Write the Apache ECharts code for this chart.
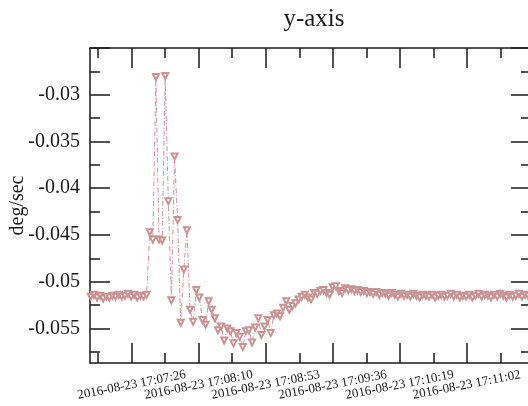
<!DOCTYPE html>
<html>
<head>
<meta charset="utf-8">
<script src="https://cdn.jsdelivr.net/npm/echarts@6/dist/echarts.min.js"></script>
<style>
  html, body { margin: 0; padding: 0; background: #fff; }
  #chart { width: 528px; height: 406px; }
</style>
</head>
<body>
<div id="chart"></div>
<script>
// seconds after 17:07:00 on 2016-08-23
var times = [
    0, 2, 4, 6, 8, 10, 12, 14, 16, 18, 20, 22, 24, 26, 28, 30, 32, 34, 36,
    38, 40, 42, 44, 46, 48, 50, 52, 54, 56, 58, 60, 62, 64, 66, 68, 70, 72, 74, 76, 78,
    80, 82, 84, 86, 88, 90, 92, 94, 96, 98, 100, 102, 104, 106, 108, 110, 112, 114, 116, 118,
    120, 122, 124, 126, 128, 130, 132, 134, 136, 138, 140, 142, 144, 146, 148, 150, 152, 154, 156, 158,
    160, 162, 164, 166, 168, 170, 172, 174, 176, 178, 180, 182, 184, 186, 188, 190, 192, 194, 196, 198,
    200, 202, 204, 206, 208, 210, 212, 214, 216, 218, 220, 222, 224, 226, 228, 230, 232, 234, 236, 238,
    240, 242, 244, 246, 248, 250, 252, 254, 256, 258, 260, 262, 264, 266, 268, 270, 272, 274, 276, 278,
    280, 282
];
// y-axis rate, deg/sec
var rates = [
    -0.0516, -0.0514, -0.0517, -0.0515, -0.0518, -0.0516, -0.0517, -0.0515, -0.0516, -0.0514,
    -0.0516, -0.0515, -0.0513, -0.0516, -0.0514, -0.0517, -0.0515, -0.0516, -0.0514,
    -0.0447, -0.0455, -0.0281, -0.0455, -0.0456, -0.0280, -0.0414, -0.0520, -0.0366, -0.0434,
    -0.0544, -0.0487, -0.0445, -0.0530, -0.0543, -0.0509, -0.0517, -0.0541, -0.0546, -0.0521,
    -0.0530, -0.0539, -0.0552, -0.0548, -0.0563, -0.0550, -0.0553, -0.0566, -0.0555, -0.0559,
    -0.0570, -0.0553, -0.0552, -0.0565, -0.0549, -0.0539, -0.0557, -0.0548, -0.0541, -0.0555,
    -0.0536, -0.0534, -0.0537, -0.0528, -0.0521, -0.0530, -0.0526, -0.0523, -0.0519, -0.0516,
    -0.0514, -0.0517, -0.0519, -0.0512, -0.0513, -0.0510, -0.0509, -0.0512, -0.0514, -0.0506,
    -0.0505, -0.0510, -0.0512, -0.0507, -0.0509, -0.0508, -0.0510, -0.0509, -0.0511, -0.0510,
    -0.0512, -0.0511, -0.0513, -0.0511, -0.0514, -0.0512, -0.0513, -0.0515, -0.0512, -0.0514,
    -0.0516, -0.0513, -0.0515, -0.0514, -0.0516, -0.0513, -0.0515, -0.0517, -0.0514, -0.0515,
    -0.0516, -0.0514, -0.0517, -0.0515, -0.0514, -0.0516, -0.0515, -0.0513, -0.0516, -0.0514,
    -0.0517, -0.0515, -0.0516, -0.0514, -0.0517, -0.0515, -0.0513, -0.0516, -0.0514, -0.0515,
    -0.0517, -0.0514, -0.0516, -0.0513, -0.0515, -0.0517, -0.0514, -0.0516, -0.0515, -0.0513,
    -0.0516, -0.0514, -0.0515
];
var xMajorTicks = [26.4, 69.6, 112.8, 156, 199.2, 242.4];
var xMinorTicks = [4.8, 48, 91.2, 134.4, 177.6, 220.8, 264];
var xTickLabels = [
    '2016-08-23 17:07:26', '2016-08-23 17:08:10', '2016-08-23 17:08:53',
    '2016-08-23 17:09:36', '2016-08-23 17:10:19', '2016-08-23 17:11:02'
];
var yMajorTicks = [-0.055, -0.05, -0.045, -0.04, -0.035, -0.03, -0.025];
var yMinorTicks = [-0.0575, -0.0525, -0.0475, -0.0425, -0.0375, -0.0325, -0.0275];
var yTickLabels = ['-0.055', '-0.05', '-0.045', '-0.04', '-0.035', '-0.03'];

var xMin = -0.5, xMax = 283.8;
var yMin = -0.0587, yMax = -0.025;
var ink = '#1a1a1a';
var serif = '"Liberation Serif", "DejaVu Serif", serif';
var mark = '#c99393';

var pts = [];
for (var i = 0; i < times.length; i++) {
    pts.push([times[i], rates[i]]);
}

function labelFor(v) {
    for (var j = 0; j < xMajorTicks.length; j++) {
        if (Math.abs(xMajorTicks[j] - v) < 1e-6) return xTickLabels[j];
    }
    return '';
}

// labelSet: which tick values get a label on this axis (labels overlap, so split in two axes)
function xAx(pos, ticks, len, withLine, labelSet) {
    return {
        type: 'value', position: pos, min: xMin, max: xMax,
        splitLine: {show: false},
        axisLine: {show: withLine, onZero: false, lineStyle: {color: ink, width: 1.5}},
        axisTick: {show: ticks != null, inside: true, length: len, customValues: ticks || [],
            lineStyle: {color: ink, width: 1.5}},
        axisLabel: labelSet ? {
            show: true, customValues: labelSet, rotate: 11, margin: 22,
            align: 'center', verticalAlign: 'middle',
            showMinLabel: true, showMaxLabel: true, hideOverlap: false,
            fontFamily: serif, fontSize: 13, color: ink,
            formatter: labelFor
        } : {show: false}
    };
}

function yAx(pos, ticks, len, withLine, withLabels) {
    var ax = {
        type: 'value', position: pos, min: yMin, max: yMax,
        splitLine: {show: false},
        axisLine: {show: withLine, onZero: false, lineStyle: {color: ink, width: 1.5}},
        axisTick: {show: true, inside: true, length: len, customValues: ticks,
            lineStyle: {color: ink, width: 1.5}},
        axisLabel: withLabels ? {
            show: true, customValues: yMajorTicks.slice(0, 6), margin: 10,
            showMinLabel: true, showMaxLabel: true,
            fontFamily: serif, fontSize: 20, color: ink,
            formatter: function (v) {
                for (var j = 0; j < 6; j++) {
                    if (Math.abs(yMajorTicks[j] - v) < 1e-9) return yTickLabels[j];
                }
                return '';
            }
        } : {show: false}
    };
    if (withLabels) {
        ax.name = 'deg/sec';
        ax.nameLocation = 'middle';
        ax.nameGap = 62;
        ax.nameMoveOverlap = false;
        ax.nameTextStyle = {fontFamily: serif, fontSize: 20, color: ink};
    }
    return ax;
}

var evenLabels = [xMajorTicks[0], xMajorTicks[2], xMajorTicks[4]];
var oddLabels = [xMajorTicks[1], xMajorTicks[3], xMajorTicks[5]];

var chart = echarts.init(document.getElementById('chart'));
var option = {
    animation: false,
    backgroundColor: '#fff',
    title: {
        text: 'y-axis', left: 309, top: 2, textAlign: 'center',
        textStyle: {fontFamily: serif, fontSize: 25, fontWeight: 'normal', color: ink}
    },
    grid: {left: 90, top: 48, right: -3, bottom: 43, containLabel: false, outerBoundsMode: 'none'},
    xAxis: [
        xAx('bottom', xMajorTicks, 20, true, evenLabels),
        xAx('bottom', xMinorTicks, 10, false, oddLabels),
        xAx('top', xMajorTicks, 20, true, null),
        xAx('top', xMinorTicks, 10, false, null)
    ],
    yAxis: [
        yAx('left', yMajorTicks, 20, true, true),
        yAx('left', yMinorTicks, 10, false, false),
        yAx('right', yMajorTicks, 20, true, false),
        yAx('right', yMinorTicks, 10, false, false)
    ],
    series: [{
        type: 'line',
        data: pts,
        xAxisIndex: 0, yAxisIndex: 0,
        symbol: 'emptyTriangle', symbolRotate: 180, symbolSize: 6,
        showAllSymbol: true,
        itemStyle: {color: mark, borderColor: mark, borderWidth: 0.8},
        lineStyle: {color: mark, width: 1, type: [5, 2, 1, 2]}
    }]
};
chart.setOption(option);
</script>
</body>
</html>
